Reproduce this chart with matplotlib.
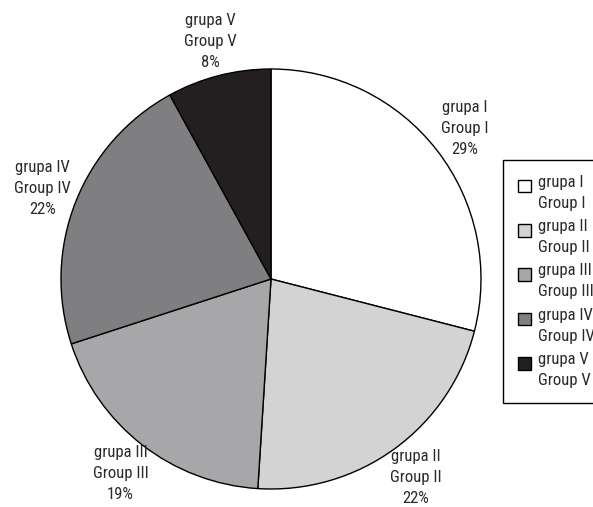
import matplotlib
matplotlib.use("Agg")
import matplotlib.pyplot as plt
from matplotlib.patches import Patch
from matplotlib import font_manager

# pick a narrow sans family if one is installed
available = {f.name for f in font_manager.fontManager.ttflist}
candidates = ["Roboto Condensed", "DejaVu Sans Condensed", "Liberation Sans Narrow",
              "Open Sans Condensed", "Noto Sans Condensed", "Roboto"]
found = [c for c in candidates if c in available]
plt.rcParams['font.family'] = found[:1] + ['DejaVu Sans']

groups_pl = ["grupa I", "grupa II", "grupa III", "grupa IV", "grupa V"]
groups_en = ["Group I", "Group II", "Group III", "Group IV", "Group V"]
shares = [29, 22, 19, 22, 8]
colors = ["#ffffff", "#d3d3d3", "#a7a7a9", "#7f7f81", "#231f20"]

W, H = 593, 507
fig = plt.figure(figsize=(W / 100, H / 100), dpi=100)
cx, cy, r = 271, 279, 210
ax = fig.add_axes([(cx - r) / W, (H - cy - r) / H, 2 * r / W, 2 * r / H])

labels = [f"{p}\n{e}\n{v}%" for p, e, v in zip(groups_pl, groups_en, shares)]
wedges, texts = ax.pie(shares, colors=colors, startangle=90, counterclock=False,
                       labels=labels, labeldistance=1.17,
                       wedgeprops=dict(edgecolor="black", linewidth=1.0),
                       textprops=dict(fontsize=12, color="#2a2a2a"))
for t in texts:
    t.set_ha("center")
    t.set_va("center")
    t.set_multialignment("center")
    t.set_linespacing(1.5)
ax.set_xlim(-1, 1)
ax.set_ylim(-1, 1)
ax.set_aspect("equal")
ax.axis("off")

handles = [Patch(facecolor=c, edgecolor="black", linewidth=1.0) for c in colors]
leg_labels = [f"{p}\n{e}" for p, e in zip(groups_pl, groups_en)]
leg = fig.legend(handles, leg_labels, loc="upper left",
                 bbox_to_anchor=(503 / W, 1 - 160 / H), borderaxespad=0,
                 fancybox=False, edgecolor="black", framealpha=1,
                 fontsize=12, handlelength=0.8, handleheight=0.8,
                 handletextpad=0.4, labelspacing=0.5, borderpad=0.88)
leg.get_frame().set_linewidth(1.0)
for t in leg.get_texts():
    t.set_color("#2a2a2a")
    t.set_linespacing(1.5)
for h in leg.legend_handles:
    h.set_y(h.get_y() + 5)

fig.savefig("out.png", dpi=100, facecolor="white")
